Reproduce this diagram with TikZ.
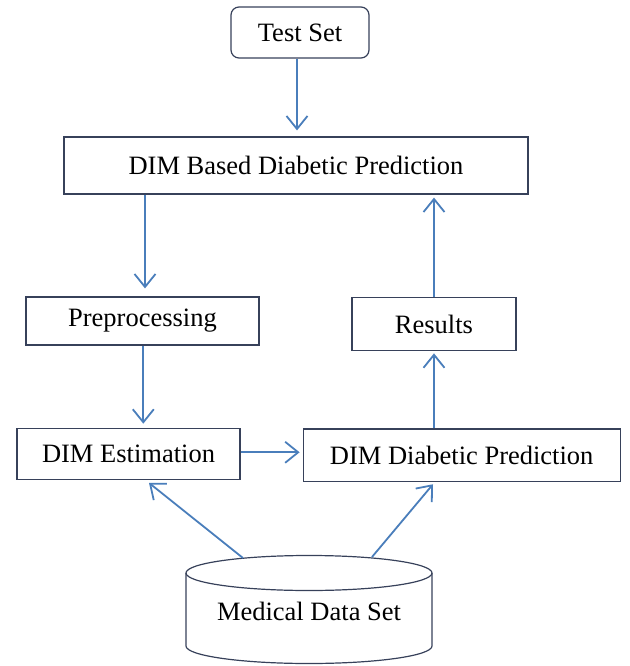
\documentclass[tikz,border=0pt]{standalone}
\usepackage{fontspec}
\setmainfont{Liberation Serif}
\usetikzlibrary{arrows.meta,calc}
\definecolor{boxc}{RGB}{55,65,90}
\definecolor{arrc}{RGB}{74,126,187}
\begin{document}
\begin{tikzpicture}[x=1pt,y=-1pt,
  box/.style={draw=boxc,line width=1.2pt,inner sep=0pt,font=\fontsize{26.5}{30}\selectfont},
  lbl/.style={inner sep=0pt,font=\fontsize{26.5}{30}\selectfont},
  arr/.style={draw=arrc,line width=1.8pt,-{Straight Barb[length=13pt,width=21pt]}}]
\useasboundingbox (0,0) rectangle (629,666);
\node[box,rounded corners=8pt,minimum width=138pt,minimum height=51pt] (ts) at (300,32.5) {Test Set};
\node[box,minimum width=464pt,minimum height=57pt] (db) at (296,165.5) {DIM Based Diabetic Prediction};
\node[box,minimum width=233pt,minimum height=48pt] (pp) at (142.5,321) {Preprocessing};
\node[box,minimum width=164pt,minimum height=53.5pt] (rs) at (434,324) {Results};
\node[box,minimum width=223pt,minimum height=51pt] (de) at (128.5,453.8) {DIM Estimation};
\node[box,minimum width=317pt,minimum height=52.7pt] (dd) at (461.7,455.3) {DIM Diabetic Prediction};
% cylinder
\draw[boxc,line width=1.2pt] (309,573) ellipse [x radius=123, y radius=17.5];
\draw[boxc,line width=1.2pt] (186,573) -- (186,646) arc [start angle=180, end angle=0, x radius=123, y radius=17.5] -- (432,573);
\node[lbl] (ds) at (309,611) {Medical Data Set};
\coordinate (c1) at (243,558);
\coordinate (c2) at (372,557);
\coordinate (t1) at ($(de.south)+(20.5,3)$);
\coordinate (t2) at ($(dd.south)+(-28.7,2)$);
% connectors
\draw[arr,shorten >=6pt] ([xshift=-3pt]ts.south) -- ([xshift=-3pt]ts.south |- db.north);
\draw[arr,shorten >=8pt] ([xshift=2.5pt]db.south -| pp.north) -- ([xshift=2.5pt]pp.north);
\draw[arr,shorten >=4pt] ([xshift=0.8pt]pp.south) -- ([xshift=0.8pt]pp.south |- de.north);
\draw[arr,shorten >=3pt] ([yshift=1.5pt]de.east) -- ([yshift=1.5pt]de.east -| dd.west);
\draw[arr,shorten >=2pt] (rs.south |- dd.north) -- (rs.south);
\draw[arr,shorten >=3pt] (rs.north) -- (rs.north |- db.south);
\draw[arr] (c1) -- (t1);
\draw[arr] (c2) -- (t2);
\end{tikzpicture}
\end{document}
